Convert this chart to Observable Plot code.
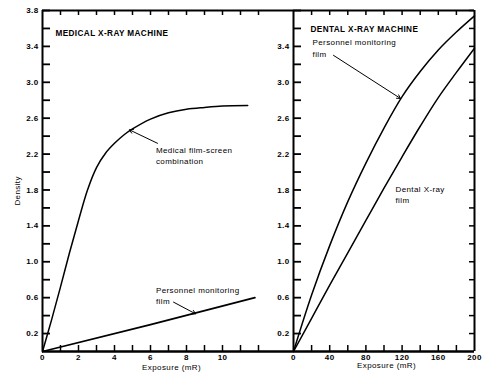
<!DOCTYPE html>
<html><head><meta charset="utf-8">
<script src="https://cdn.jsdelivr.net/npm/d3@7"></script>
<script src="https://cdn.jsdelivr.net/npm/@observablehq/plot@0.6"></script>
<style>
body{margin:0;background:#fff}
#chart{position:relative;width:500px;height:385px;background:#fff}
#chart svg{position:absolute;left:0;top:0}
#chart text{letter-spacing:0.4px}
</style></head><body><div id="chart"></div>
<script>
// ---- Medical X-ray machine panel (exposure in mR) ----
const medScreenExposure = [0, 0.5, 1, 1.5, 2, 2.5, 3, 3.5, 4, 4.5, 5, 6, 7, 8, 9, 10, 11.4];
const medScreenDensity  = [0, 0.35, 0.72, 1.10, 1.46, 1.80, 2.05, 2.21, 2.32, 2.41, 2.48, 2.59, 2.66, 2.70, 2.72, 2.735, 2.74];
const medPersonnelExposure = [0, 6, 11.8];
const medPersonnelDensity  = [0, 0.30, 0.60];

// ---- Dental X-ray machine panel (exposure in mR) ----
const dentExposure = [0, 20, 40, 60, 80, 100, 120, 140, 160, 180, 200];
const dentPersonnelDensity = [0, 0.63, 1.18, 1.67, 2.10, 2.49, 2.84, 3.12, 3.36, 3.56, 3.74];
const dentFilmDensity      = [0, 0.37, 0.74, 1.10, 1.46, 1.82, 2.17, 2.51, 2.83, 3.11, 3.38];

// ---- tick values ----
const densityTicks = d3.range(0.2, 3.81, 0.2).map(v => +v.toFixed(1));
const leftDensityLabels  = [0.2, 0.6, 1.0, 1.4, 1.8, 2.2, 2.6, 3.0, 3.4, 3.8];
const rightDensityLabels = [0.2, 0.6, 1.0, 1.4, 1.8, 2.2, 2.6, 3.0, 3.4];
const medXTicks  = [1, 2, 3, 4, 5, 6, 7, 8, 9, 10, 11, 12];
const medXLabels = [0, 2, 4, 6, 8, 10];
const dentXTicks  = [20, 40, 60, 80, 100, 120, 140, 160, 180];
const dentXLabels = [0, 40, 80, 120, 160, 200];

// ---- annotations (data coordinates) ----
const medTitle = [{x: 0.72, y: 3.54, text: "MEDICAL X-RAY MACHINE"}];
const medNotes = [
  {x: 6.3, y: 2.30, text: "Medical film-screen\ncombination"},
  {x: 6.3, y: 0.74, text: "Personnel monitoring\nfilm"}
];
const medArrows = [
  {x1: 6.39, y1: 2.32, x2: 4.83, y2: 2.47},
  {x1: 7.28, y1: 0.55, x2: 8.5, y2: 0.42}
];
const dentTitle = [{x: 18.8, y: 3.59, text: "DENTAL X-RAY MACHINE"}];
const dentNotes = [
  {x: 21, y: 3.50, text: "Personnel monitoring\nfilm"},
  {x: 112.7, y: 1.87, text: "Dental X-ray\nfilm"}
];
const dentArrows = [{x1: 44.2, y1: 3.30, x2: 118.2, y2: 2.82}];
const yTitle = [{x: -1.39, y: 1.79, text: "Density"}];
const medXTitle = [{x: 7.17, y: -0.18, text: "Exposure (mR)"}];
const dentXTitle = [{x: 102.8, y: -0.16, text: "Exposure (mR)"}];

const W = 500, H = 385, MT = 10, MB = 34;
const FH = H - MT - MB;
const font = "Liberation Sans, Arial, sans-serif";
const common = {
  width: W, height: H, marginTop: MT, marginBottom: MB,
  style: {background: "none", fontFamily: font, fontSize: "8px", color: "#000"}
};
const ink = {stroke: "black"};

// Left panel
const LM = 42, LR = 207;
const LFW = W - LM - LR;
const medScreen = medScreenExposure.map((x, i) => ({x, y: medScreenDensity[i]}));
const medPers = medPersonnelExposure.map((x, i) => ({x, y: medPersonnelDensity[i]}));

const left = Plot.plot({
  ...common,
  marginLeft: LM, marginRight: LR,
  x: {domain: [0, LFW / 18]},
  y: {domain: [0, 3.8]},
  marks: [
    Plot.ruleX(medXTicks, {...ink, strokeWidth: 1.5, insetTop: FH - 6}),
    Plot.ruleX(medXTicks, {...ink, strokeWidth: 1.5, insetBottom: FH - 5}),
    Plot.ruleY(densityTicks, {...ink, strokeWidth: 1.8, insetRight: LFW - 8}),
    Plot.ruleX([0], {...ink, strokeWidth: 2}),
    Plot.ruleY([0], {...ink, strokeWidth: 2.5}),
    Plot.ruleY([3.8], {...ink, strokeWidth: 2}),
    Plot.axisY(leftDensityLabels, {tickSize: 0, tickPadding: 4, tickFormat: d3.format(".1f"), label: null, fontWeight: "bold"}),
    Plot.axisX(medXLabels, {tickSize: 0, tickPadding: 3, tickFormat: d => String(d), label: null, fontWeight: "bold"}),
    Plot.line(medScreen, {x: "x", y: "y", curve: "catmull-rom", ...ink, strokeWidth: 1.5}),
    Plot.line(medPers, {x: "x", y: "y", ...ink, strokeWidth: 1.8}),
    Plot.arrow(medArrows, {x1: "x1", y1: "y1", x2: "x2", y2: "y2", ...ink, strokeWidth: 1, headLength: 6}),
    Plot.text(medTitle, {x: "x", y: "y", text: "text", textAnchor: "start", fontSize: 8.2, fontWeight: "bold"}),
    Plot.text(medNotes, {x: "x", y: "y", text: "text", textAnchor: "start", lineAnchor: "top", fontSize: 8, lineHeight: 1.4}),
    Plot.text(yTitle, {x: "x", y: "y", text: "text", rotate: -90, fontSize: 8}),
    Plot.text(medXTitle, {x: "x", y: "y", text: "text", fontSize: 8})
  ]
});

// Right panel
const RM = 293, RR = 26;
const RFW = W - RM - RR;
const dentPers = dentExposure.map((x, i) => ({x, y: dentPersonnelDensity[i]}));
const dentFilm = dentExposure.map((x, i) => ({x, y: dentFilmDensity[i]}));

const right = Plot.plot({
  ...common,
  marginLeft: RM, marginRight: RR,
  x: {domain: [0, 200]},
  y: {domain: [0, 3.8]},
  marks: [
    Plot.ruleX(dentXTicks, {...ink, strokeWidth: 1.5, insetTop: FH - 6}),
    Plot.ruleX(dentXTicks, {...ink, strokeWidth: 1.5, insetBottom: FH - 5}),
    Plot.ruleY(densityTicks, {...ink, strokeWidth: 1.8, insetRight: RFW - 8}),
    Plot.ruleY(densityTicks, {...ink, strokeWidth: 1.5, insetLeft: RFW - 5}),
    Plot.ruleX([0], {...ink, strokeWidth: 2}),
    Plot.ruleX([200], {...ink, strokeWidth: 2}),
    Plot.ruleY([0], {...ink, strokeWidth: 2.5}),
    Plot.ruleY([3.8], {...ink, strokeWidth: 2}),
    Plot.axisY(rightDensityLabels, {tickSize: 0, tickPadding: 4, tickFormat: d3.format(".1f"), label: null, fontWeight: "bold"}),
    Plot.axisX(dentXLabels, {tickSize: 0, tickPadding: 3, tickFormat: d => String(d), label: null, fontWeight: "bold"}),
    Plot.line(dentPers, {x: "x", y: "y", curve: "catmull-rom", ...ink, strokeWidth: 1.5}),
    Plot.line(dentFilm, {x: "x", y: "y", curve: "catmull-rom", ...ink, strokeWidth: 1.5}),
    Plot.arrow(dentArrows, {x1: "x1", y1: "y1", x2: "x2", y2: "y2", ...ink, strokeWidth: 1, headLength: 6}),
    Plot.text(dentTitle, {x: "x", y: "y", text: "text", textAnchor: "start", fontSize: 8.2, fontWeight: "bold"}),
    Plot.text(dentNotes, {x: "x", y: "y", text: "text", textAnchor: "start", lineAnchor: "top", fontSize: 8, lineHeight: 1.4}),
    Plot.text(dentXTitle, {x: "x", y: "y", text: "text", fontSize: 8})
  ]
});

const chart = document.getElementById("chart");
chart.appendChild(left);
chart.appendChild(right);
</script>
</body></html>
